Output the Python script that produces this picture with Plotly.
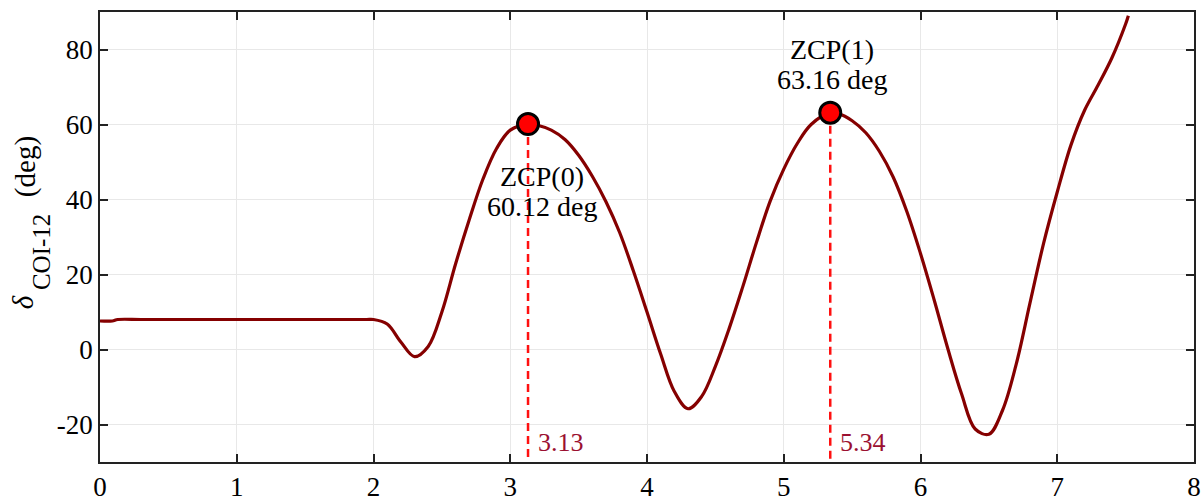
import plotly.graph_objects as go

# curve
t_vals = [0, 0.09, 0.13, 0.3, 0.6, 1.0, 1.4, 1.8, 1.95, 2.0, 2.1, 2.2, 2.3, 2.4, 2.5,
          2.6, 2.7, 2.8, 2.9, 3.0, 3.13, 3.2, 3.3, 3.4, 3.5, 3.6, 3.7, 3.8, 3.9,
          4.0, 4.1, 4.2, 4.3, 4.4, 4.5, 4.6, 4.7, 4.8, 4.9, 5.0, 5.1, 5.2, 5.34,
          5.4, 5.5, 5.6, 5.7, 5.8, 5.9, 6.0, 6.1, 6.2, 6.3, 6.4, 6.5, 6.6, 6.7,
          6.8, 6.9, 7.0, 7.1, 7.2, 7.3, 7.4, 7.5, 7.52]
delta_vals = [7.6, 7.6, 8.0, 8.0, 8.0, 8.0, 8.0, 8.0, 8.0, 8.0, 6.8, 2.0, -1.9, 0.8, 10.0,
              22.8, 34.6, 45.4, 53.6, 58.5, 60.12, 59.8, 58.5, 56.0, 51.8, 46.2, 39.4, 31.2, 21.0,
              10.0, -1.2, -11.2, -15.8, -12.5, -4.5, 5.5, 16.7, 28.5, 39.5, 48.1, 55.0, 60.0, 63.16,
              62.9, 61.0, 57.8, 52.8, 46.0, 36.8, 25.6, 13.2, 0.2, -11.8, -21.2, -22.6, -16.2, -3.9,
              12.3, 28.3, 42.0, 54.5, 63.8, 70.6, 77.8, 86.8, 89.0]

# zero-crossing points
zcp_t = [3.13, 5.34]
zcp_delta = [60.12, 63.16]
zcp_names = ["ZCP(0)", "ZCP(1)"]
zcp_time_labels = ["3.13", "5.34"]

x_ticks = [0, 1, 2, 3, 4, 5, 6, 7, 8]
y_ticks = [-20, 0, 20, 40, 60, 80]
x_range = [0, 8]
y_range = [-30, 90]

FONT = "Liberation Serif, 'Times New Roman', Times, serif"

fig = go.Figure()

fig.add_trace(go.Scatter(
    x=t_vals, y=delta_vals, mode="lines",
    line=dict(color="#850000", width=3.2, shape="spline", smoothing=1.0),
    hoverinfo="skip", showlegend=False))

for t, d in zip(zcp_t, zcp_delta):
    fig.add_trace(go.Scatter(
        x=[t, t], y=[d, y_range[0]], mode="lines",
        line=dict(color="#ff1010", width=2.5, dash="8px,5px"),
        showlegend=False, hoverinfo="skip"))

fig.add_trace(go.Scatter(
    x=zcp_t, y=zcp_delta, mode="markers",
    marker=dict(size=21, color="#ff0000", line=dict(color="#000000", width=3)),
    showlegend=False, hoverinfo="skip"))

# ZCP annotations: ZCP(0) below the point, ZCP(1) above
fig.add_annotation(x=zcp_t[0], y=zcp_delta[0], xref="x", yref="y",
                   text=zcp_names[0], showarrow=False, xshift=14, yshift=-52,
                   font=dict(family=FONT, size=28, color="black"))
fig.add_annotation(x=zcp_t[0], y=zcp_delta[0], xref="x", yref="y",
                   text=f"{zcp_delta[0]:.2f} deg", showarrow=False, xshift=14, yshift=-82,
                   font=dict(family=FONT, size=28, color="black"))
fig.add_annotation(x=zcp_t[1], y=zcp_delta[1], xref="x", yref="y",
                   text=zcp_names[1], showarrow=False, xshift=2, yshift=63,
                   font=dict(family=FONT, size=28, color="black"))
fig.add_annotation(x=zcp_t[1], y=zcp_delta[1], xref="x", yref="y",
                   text=f"{zcp_delta[1]:.2f} deg", showarrow=False, xshift=2, yshift=33,
                   font=dict(family=FONT, size=28, color="black"))

for t, lab in zip(zcp_t, zcp_time_labels):
    fig.add_annotation(x=t, y=-24.8, xref="x", yref="y", text=lab, showarrow=False,
                       xanchor="left", yanchor="middle", xshift=8,
                       font=dict(family=FONT, size=26, color="#9b1030"))

# y-axis title built from rotated pieces: italic delta, subscript, unit
fig.add_annotation(x=-0.0702, y=0.3556, xref="paper", yref="paper",
                   text="<i>δ</i>", showarrow=False, textangle=-90,
                   xanchor="center", yanchor="middle",
                   font=dict(family=FONT, size=29, color="black"))
fig.add_annotation(x=-0.0534, y=0.4656, xref="paper", yref="paper",
                   text="COI-12", showarrow=False, textangle=-90,
                   xanchor="center", yanchor="middle",
                   font=dict(family=FONT, size=25, color="black"))
fig.add_annotation(x=-0.0675, y=0.6556, xref="paper", yref="paper",
                   text="(deg)", showarrow=False, textangle=-90,
                   xanchor="center", yanchor="middle",
                   font=dict(family=FONT, size=29, color="black"))

axis_common = dict(
    showgrid=True, gridcolor="#e8e8e8", gridwidth=1,
    showline=True, linecolor="#222222", linewidth=1.5, mirror="ticks",
    ticks="inside", ticklen=8, tickwidth=1.5, tickcolor="#222222",
    tickfont=dict(family=FONT, size=27, color="black"),
    zeroline=False,
)

fig.update_xaxes(range=x_range, tickvals=x_ticks, ticktext=[str(v) for v in x_ticks], **axis_common)
fig.update_yaxes(range=y_range, tickvals=y_ticks, ticktext=[str(v) for v in y_ticks], **axis_common)

fig.update_layout(
    width=1202, height=501,
    margin=dict(l=100, r=8, t=12, b=39, autoexpand=False),
    plot_bgcolor="white", paper_bgcolor="white",
    font=dict(family=FONT, color="black"),
)

fig.write_html("out.html", config={"displayModeBar": False},
               post_script="document.body.style.margin='0';document.body.style.padding='0';"
                           "document.body.style.overflow='hidden';")
